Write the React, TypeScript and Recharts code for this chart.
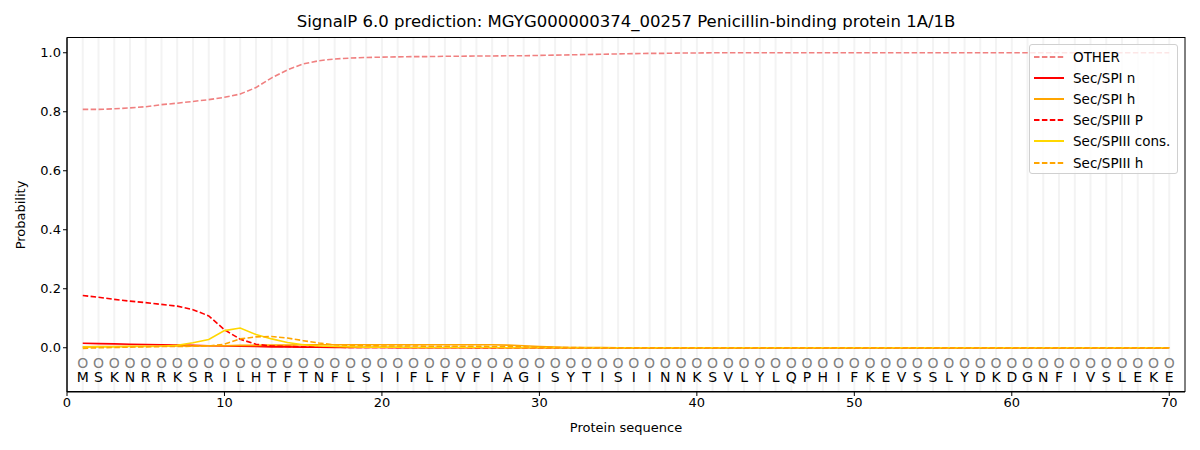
import React from 'react';
import { ComposedChart, Line, XAxis, YAxis, ReferenceLine, Scatter } from 'recharts';

const sequence = 'MSKNRRKSRILHTFTNFLSIIFLFVFIAGISYTISIINNKSVLYLQPHIFKEVSSLYDKDGNFIVSLEKE'.split('');
const positions = sequence.map((_, i) => i + 1);

const otherVals = [
  0.808, 0.808, 0.81, 0.813, 0.817, 0.824, 0.829, 0.835, 0.841, 0.849,
  0.86, 0.882, 0.915, 0.942, 0.962, 0.973, 0.979, 0.982, 0.984, 0.985,
  0.986, 0.987, 0.987, 0.988, 0.988, 0.989, 0.989, 0.99, 0.99, 0.991,
  0.992, 0.993, 0.994, 0.995, 0.996, 0.997, 0.998, 0.998, 0.999, 0.999,
  1, 1, 1, 1, 1, 1, 1, 1, 1, 1,
  1, 1, 1, 1, 1, 1, 1, 1, 1, 1,
  1, 1, 1, 1, 1, 1, 1, 1, 1, 1,
];
const spiN = [
  0.015, 0.014, 0.013, 0.012, 0.011, 0.01, 0.009, 0.008, 0.007, 0.006,
  0.005, 0.004, 0.003, 0.003, 0.002, 0.002, 0.001, 0.001, 0.001, 0.001,
  0, 0, 0, 0, 0, 0, 0, 0, 0, 0,
  0, 0, 0, 0, 0, 0, 0, 0, 0, 0,
  0, 0, 0, 0, 0, 0, 0, 0, 0, 0,
  0, 0, 0, 0, 0, 0, 0, 0, 0, 0,
  0, 0, 0, 0, 0, 0, 0, 0, 0, 0,
];
const spiH = [
  0.003, 0.004, 0.004, 0.005, 0.005, 0.005, 0.006, 0.006, 0.007, 0.007,
  0.008, 0.008, 0.009, 0.009, 0.01, 0.01, 0.01, 0.01, 0.01, 0.01,
  0.01, 0.01, 0.01, 0.01, 0.01, 0.01, 0.01, 0.009, 0.007, 0.004,
  0.002, 0.001, 0.001, 0.001, 0, 0, 0, 0, 0, 0,
  0, 0, 0, 0, 0, 0, 0, 0, 0, 0,
  0, 0, 0, 0, 0, 0, 0, 0, 0, 0,
  0, 0, 0, 0, 0, 0, 0, 0, 0, 0,
];
const spiiiP = [
  0.177, 0.171, 0.164, 0.158, 0.153, 0.147, 0.141, 0.129, 0.108, 0.061,
  0.029, 0.012, 0.006, 0.004, 0.003, 0.002, 0.002, 0.001, 0.001, 0.001,
  0.001, 0.001, 0.001, 0.001, 0.001, 0, 0, 0, 0, 0,
  0, 0, 0, 0, 0, 0, 0, 0, 0, 0,
  0, 0, 0, 0, 0, 0, 0, 0, 0, 0,
  0, 0, 0, 0, 0, 0, 0, 0, 0, 0,
  0, 0, 0, 0, 0, 0, 0, 0, 0, 0,
];
const spiiiCons = [
  0.002, 0.003, 0.003, 0.004, 0.004, 0.005, 0.008, 0.017, 0.028, 0.058,
  0.067, 0.045, 0.03, 0.018, 0.01, 0.006, 0.004, 0.003, 0.002, 0.002,
  0.002, 0.001, 0.001, 0.001, 0.001, 0.001, 0.001, 0, 0, 0,
  0, 0, 0, 0, 0, 0, 0, 0, 0, 0,
  0, 0, 0, 0, 0, 0, 0, 0, 0, 0,
  0, 0, 0, 0, 0, 0, 0, 0, 0, 0,
  0, 0, 0, 0, 0, 0, 0, 0, 0, 0,
];
const spiiiH = [
  -0.002, 0, 0.001, 0.002, 0.003, 0.004, 0.004, 0.005, 0.006, 0.012,
  0.03, 0.037, 0.038, 0.033, 0.024, 0.016, 0.01, 0.008, 0.007, 0.006,
  0.006, 0.006, 0.005, 0.005, 0.005, 0.005, 0.004, 0.004, 0.003, 0.002,
  0.001, 0.001, 0, 0, 0, 0, 0, 0, 0, 0,
  0, 0, 0, 0, 0, 0, 0, 0, 0, 0,
  0, 0, 0, 0, 0, 0, 0, 0, 0, 0,
  0, 0, 0, 0, 0, 0, 0, 0, 0, 0,
];

const xTicks = [0, 10, 20, 30, 40, 50, 60, 70];
const yTicks = [0, 0.2, 0.4, 0.6, 0.8, 1.0];

const seriesDefs = [
  { key: 'other', name: 'OTHER', color: '#f08080', dash: '5.5 2.4' },
  { key: 'spiN', name: 'Sec/SPI n', color: '#ff0000', dash: undefined },
  { key: 'spiH', name: 'Sec/SPI h', color: '#ffa500', dash: undefined },
  { key: 'spiiiP', name: 'Sec/SPIII P', color: '#ff0000', dash: '5.5 2.4' },
  { key: 'spiiiCons', name: 'Sec/SPIII cons.', color: '#ffd700', dash: undefined },
  { key: 'spiiiH', name: 'Sec/SPIII h', color: '#ffa500', dash: '5.5 2.4' },
];

const lineData = positions.map((p, i) => ({
  x: p,
  other: otherVals[i],
  spiN: spiN[i],
  spiH: spiH[i],
  spiiiP: spiiiP[i],
  spiiiCons: spiiiCons[i],
  spiiiH: spiiiH[i],
}));

const circleData = positions.map((p) => ({ x: p, y: -0.05 }));
const letterData = positions.map((p, i) => ({ x: p, y: -0.1, aa: sequence[i] }));

const FONT = 'DejaVu Sans, sans-serif';

const CircleShape = (props: any) => {
  const { cx, cy } = props;
  return (
    <text x={cx} y={cy} textAnchor="middle" dominantBaseline="central" fontSize={14} fill="#808080" fontFamily={FONT}>
      O
    </text>
  );
};

const LetterShape = (props: any) => {
  const { cx, cy, payload } = props;
  return (
    <text x={cx} y={cy} textAnchor="middle" dominantBaseline="central" fontSize={14} fill="#000" fontFamily={FONT}>
      {payload.aa}
    </text>
  );
};

const LegendBox = () => (
  <div
    style={{
      position: 'absolute',
      left: 1029,
      top: 44,
      width: 149,
      height: 130,
      boxSizing: 'border-box',
      background: 'rgba(255,255,255,0.8)',
      border: '1px solid #d0d0d0',
      borderRadius: 3,
      padding: '1px 2px 0 3px',
      fontFamily: FONT,
      fontSize: 13.5,
      whiteSpace: 'nowrap',
    }}
  >
    {seriesDefs.map((s) => (
      <div key={s.key} style={{ display: 'flex', alignItems: 'center', height: 21.2 }}>
        <svg width={31} height={10} style={{ marginRight: 9, flexShrink: 0 }}>
          <line x1={1} y1={5} x2={31} y2={5} stroke={s.color} strokeWidth={2} strokeDasharray={s.dash ? '5.5 2.4' : undefined} />
        </svg>
        <span style={{ color: '#000' }}>{s.name}</span>
      </div>
    ))}
  </div>
);

export default function App() {
  return (
    <div style={{ position: 'absolute', left: 0, top: 0, width: 1200, height: 450, background: '#fff' }}>
      <div
        style={{
          position: 'absolute',
          top: 12,
          left: 0,
          width: 1252,
          textAlign: 'center',
          fontFamily: FONT,
          fontSize: 16.5,
          color: '#000',
        }}
      >
        SignalP 6.0 prediction: MGYG000000374_00257 Penicillin-binding protein 1A/1B
      </div>
      <ComposedChart width={1200} height={450} margin={{ top: 38, right: 15, bottom: 0, left: 0 }} data={lineData}>
        {positions.map((p) => (
          <ReferenceLine key={'g' + p} x={p} stroke="#f3f3f3" strokeWidth={2} ifOverflow="hidden" />
        ))}
        <XAxis
          dataKey="x"
          type="number"
          domain={[0, 71]}
          ticks={xTicks}
          allowDataOverflow
          height={58}
          tick={{ fontSize: 13, fill: '#000', fontFamily: FONT }}
          tickLine={{ stroke: '#000' }}
          axisLine={{ stroke: '#000' }}
          tickSize={4}
          label={{ value: 'Protein sequence', position: 'insideBottom', offset: 18, fontSize: 13, fill: '#000', fontFamily: FONT }}
        />
        <YAxis
          type="number"
          domain={[-0.15, 1.05]}
          ticks={yTicks}
          allowDataOverflow
          width={67}
          tickFormatter={(v: number) => v.toFixed(1)}
          tick={{ fontSize: 13, fill: '#000', fontFamily: FONT }}
          tickLine={{ stroke: '#000' }}
          axisLine={{ stroke: '#000' }}
          tickSize={4}
          label={{ value: 'Probability', angle: -90, position: 'insideLeft', offset: 20, fontSize: 13, fill: '#000', fontFamily: FONT, style: { textAnchor: 'middle' } }}
        />
        {seriesDefs.map((s) => (
          <Line
            key={s.key}
            dataKey={s.key}
            name={s.name}
            type="linear"
            stroke={s.color}
            strokeWidth={1.6}
            strokeDasharray={s.dash}
            dot={false}
            activeDot={false}
            isAnimationActive={false}
          />
        ))}
        <Scatter data={circleData} dataKey="y" shape={CircleShape} isAnimationActive={false} legendType="none" />
        <Scatter data={letterData} dataKey="y" shape={LetterShape} isAnimationActive={false} legendType="none" />
      </ComposedChart>
      <svg style={{ position: 'absolute', left: 0, top: 0, pointerEvents: 'none' }} width={1200} height={450}>
        <rect x={67} y={37.5} width={1118} height={354} fill="none" stroke="#000" strokeWidth={1} />
      </svg>
      <LegendBox />
    </div>
  );
}
